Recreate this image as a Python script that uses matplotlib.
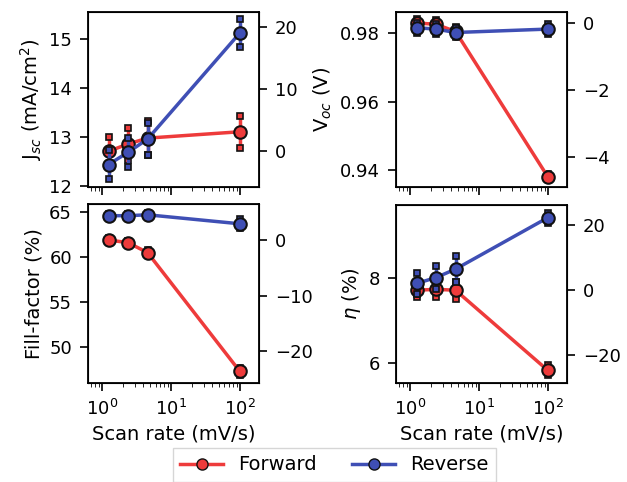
import matplotlib
matplotlib.use("Agg")
import matplotlib.pyplot as plt
from matplotlib.lines import Line2D

# scan rates (mV/s)
scan_rate = [1.25, 2.4, 4.6, 100]

# Jsc (mA/cm2)
jsc_fwd = [12.70, 12.85, 12.97, 13.10]
jsc_fwd_err = [0.30, 0.32, 0.35, 0.33]
jsc_rev = [12.43, 12.68, 12.95, 15.12]
jsc_rev_err = [0.30, 0.30, 0.32, 0.28]

# Voc (V)
voc_fwd = [0.9830, 0.9826, 0.9805, 0.9380]
voc_fwd_err = [0.0012, 0.0012, 0.0012, 0.0008]
voc_rev = [0.9816, 0.9812, 0.9802, 0.9812]
voc_rev_err = [0.0014, 0.0014, 0.0014, 0.0014]

# fill factor (%)
ff_fwd = [61.9, 61.6, 60.5, 47.3]
ff_fwd_err = [0.2, 0.2, 0.3, 0.4]
ff_rev = [64.6, 64.6, 64.7, 63.7]
ff_rev_err = [0.2, 0.2, 0.2, 0.5]

# efficiency (%)
eta_fwd = [7.72, 7.74, 7.72, 5.82]
eta_fwd_err = [0.17, 0.17, 0.2, 0.12]
eta_rev = [7.88, 8.02, 8.22, 9.44]
eta_rev_err = [0.25, 0.27, 0.3, 0.12]

RED = '#ee3b3b'
BLUE = '#3f4fb5'

panels = [
    # data fwd, err fwd, data rev, err rev, ylabel, ylim, yticks, right ticks
    (jsc_fwd, jsc_fwd_err, jsc_rev, jsc_rev_err, 'J$_{sc}$ (mA/cm$^2$)',
     (11.97, 15.55), [12, 13, 14, 15], [0, 10, 20]),
    (voc_fwd, voc_fwd_err, voc_rev, voc_rev_err, 'V$_{oc}$ (V)',
     (0.935, 0.9862), [0.94, 0.96, 0.98], [0, -2, -4]),
    (ff_fwd, ff_fwd_err, ff_rev, ff_rev_err, 'Fill-factor (%)',
     (46.0, 65.9), [50, 55, 60, 65], [0, -10, -20]),
    (eta_fwd, eta_fwd_err, eta_rev, eta_rev_err, '$\\eta$ (%)',
     (5.52, 9.74), [6, 8], [20, 0, -20]),
]

# axes boxes in pixels: left, top, right, bottom
boxes = [(88, 12, 259, 187), (396, 12, 567, 187),
         (88, 204, 259, 383), (396, 205, 567, 383)]

W, H = 627, 482
plt.rcParams['font.size'] = 14
plt.rcParams['xtick.labelsize'] = 13
plt.rcParams['ytick.labelsize'] = 13
plt.rcParams['xtick.major.size'] = 5.5
plt.rcParams['ytick.major.size'] = 5.5
plt.rcParams['xtick.minor.size'] = 3
plt.rcParams['xtick.major.pad'] = 6
plt.rcParams['ytick.major.pad'] = 6
plt.rcParams['xtick.major.width'] = 1.2
plt.rcParams['ytick.major.width'] = 1.2
fig = plt.figure(figsize=(W / 100, H / 100), dpi=100)


def draw(ax, x, y, err, color, z):
    line, caps, bars = ax.errorbar(x, y, yerr=err, color=color, lw=2.5,
                                   marker='o', ms=9, mfc=color, mec='#111111',
                                   mew=1.5, ecolor=color, elinewidth=2.5,
                                   capsize=2, zorder=z)
    for c in caps:
        c.set_marker('s')
        c.set_markersize(4)
        c.set_markerfacecolor(color)
        c.set_markeredgecolor('#111111')
        c.set_markeredgewidth(1.2)


for i, (yf, ef, yr, er, label, ylim, yticks, rticks) in enumerate(panels):
    l, t, r, b = boxes[i]
    ax = fig.add_axes([l / W, 1 - b / H, (r - l) / W, (b - t) / H])
    draw(ax, scan_rate, yf, ef, RED, 3)
    draw(ax, scan_rate, yr, er, BLUE, 4)
    ax.set_xscale('log')
    ax.set_xlim(0.63, 190)
    ax.set_ylim(*ylim)
    ax.set_yticks(yticks)
    ax.set_ylabel(label)
    if i < 2:
        ax.tick_params(axis='x', labelbottom=False)
    else:
        ax.set_xlabel('Scan rate (mV/s)')
    # right axis: percent change relative to first forward point
    ref = yf[0]
    ax2 = ax.twinx()
    ax2.set_ylim((ylim[0] - ref) / ref * 100, (ylim[1] - ref) / ref * 100)
    ax2.set_yticks(rticks)
    for s in ax.spines.values():
        s.set_linewidth(1.3)

handles = [Line2D([], [], color=RED, lw=2.5, marker='o', ms=8, mfc=RED, mec='#111111'),
           Line2D([], [], color=BLUE, lw=2.5, marker='o', ms=8, mfc=BLUE, mec='#111111')]
fig.legend(handles, ['Forward', 'Reverse'], loc='upper center', ncol=2,
           bbox_to_anchor=(0.533, 1 - 438 / H), fontsize=14, columnspacing=1.85,
           handlelength=2.2, handletextpad=0.75, fancybox=False,
           edgecolor='#cccccc')

fig.savefig('out.png', dpi=100)
